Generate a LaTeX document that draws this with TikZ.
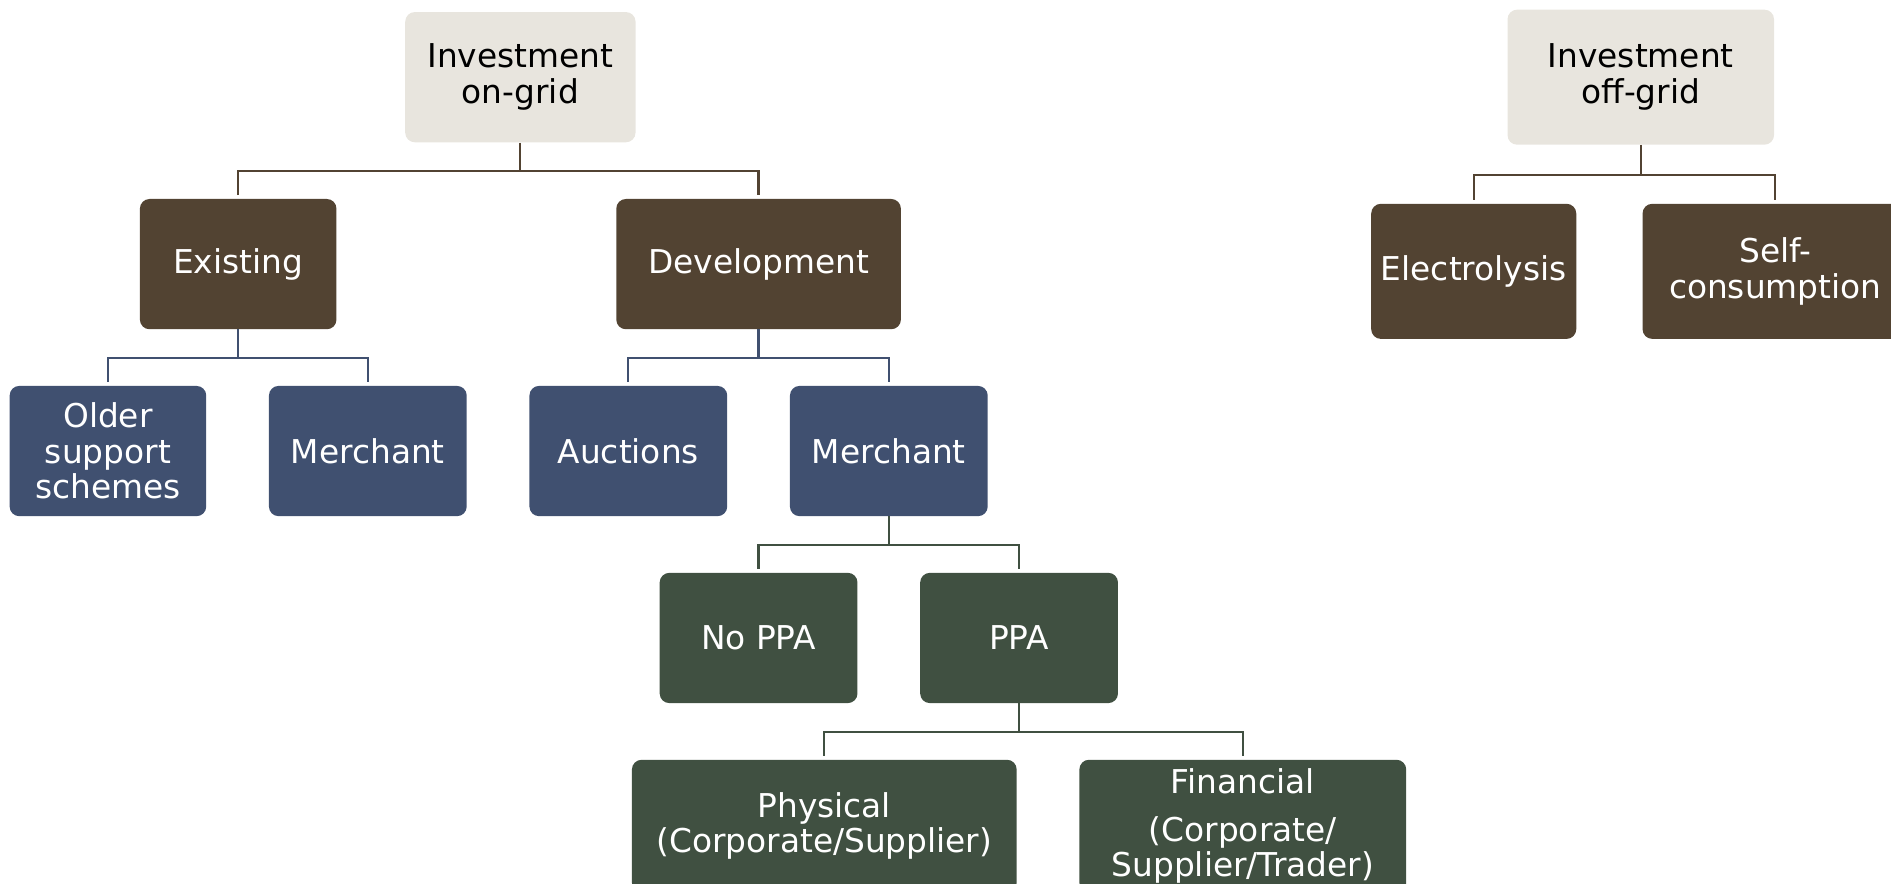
\documentclass[tikz,border=0pt]{standalone}
\usepackage{fontspec}
\setmainfont{DejaVu Sans}
\definecolor{sand}{RGB}{232,229,222}
\definecolor{bark}{RGB}{82,67,50}
\definecolor{slate}{RGB}{64,80,112}
\definecolor{moss}{RGB}{64,80,65}
\begin{document}
\begin{tikzpicture}[x=1pt,y=-1pt,
  box/.style={rounded corners=8pt, inner sep=0pt, align=center,
    font=\fontsize{27.2}{29.5}\selectfont},
  rootbox/.style={box, fill=sand, text=black},
  brownbox/.style={box, fill=bark, text=white},
  bluebox/.style={box, fill=slate, text=white},
  greenbox/.style={box, fill=moss, text=white},
  conn/.style={line width=1.8pt}]
\useasboundingbox (0,0) rectangle (1568,733);

% top level
\node[rootbox, minimum width=191pt, minimum height=108pt] (on) at (431.5,64) {Investment\\on-grid};
\node[rootbox, minimum width=221pt, minimum height=112pt] (off) at (1360.5,64) {Investment\\off-grid};

% second level
\node[brownbox, minimum width=163pt, minimum height=108pt] (ex) at (197.5,219) {Existing};
\node[brownbox, minimum width=236pt, minimum height=108pt] (dev) at (629,219) {Development};
\node[brownbox, minimum width=170pt, minimum height=112pt] (el) at (1222,225) {Electrolysis};
\node[brownbox, minimum width=220pt, minimum height=112pt] (sc) at (1472,225) {Self-\\consumption};

% third level
\node[bluebox, minimum width=163pt, minimum height=108pt] (old) at (89.5,374) {Older\\support\\schemes};
\node[bluebox, minimum width=164pt, minimum height=108pt] (m1) at (305,374) {Merchant};
\node[bluebox, minimum width=164pt, minimum height=108pt] (au) at (521,374) {Auctions};
\node[bluebox, minimum width=164pt, minimum height=108pt] (m2) at (737,374) {Merchant};

% PPA level
\node[greenbox, minimum width=164pt, minimum height=108pt] (np) at (629,529) {No PPA};
\node[greenbox, minimum width=164pt, minimum height=108pt] (ppa) at (845,529) {PPA};
\node[greenbox, minimum width=319pt, minimum height=110pt] (ph) at (683.5,685) {Physical\\(Corporate/Supplier)};
\node[greenbox, minimum width=271pt, minimum height=110pt] (fi) at (1030.5,685) {Financial\\[10pt](Corporate/\\Supplier/Trader)};

% connectors
\draw[conn, bark] (on.south) -- ++(0,24);
\draw[conn, bark] ([yshift=3pt]ex.north) -- ++(0,-20) -| ([yshift=3pt]dev.north);
\draw[conn, bark] (off.south) -- ++(0,25);
\draw[conn, bark] ([yshift=3pt]el.north) -- ++(0,-21) -| ([yshift=3pt]sc.north);

\draw[conn, slate] (ex.south) -- ++(0,24);
\draw[conn, slate] ([yshift=3pt]old.north) -- ++(0,-20) -| ([yshift=3pt]m1.north);
\draw[conn, slate] (dev.south) -- ++(0,24);
\draw[conn, slate] ([yshift=3pt]au.north) -- ++(0,-20) -| ([yshift=3pt]m2.north);

\draw[conn, moss] (m2.south) -- ++(0,24);
\draw[conn, moss] ([yshift=3pt]np.north) -- ++(0,-20) -| ([yshift=3pt]ppa.north);
\draw[conn, moss] (ppa.south) -- ++(0,24);
\draw[conn, moss] ([yshift=3pt]ph.north) -- ++(0,-20) -| ([yshift=3pt]fi.north);
\end{tikzpicture}
\end{document}
